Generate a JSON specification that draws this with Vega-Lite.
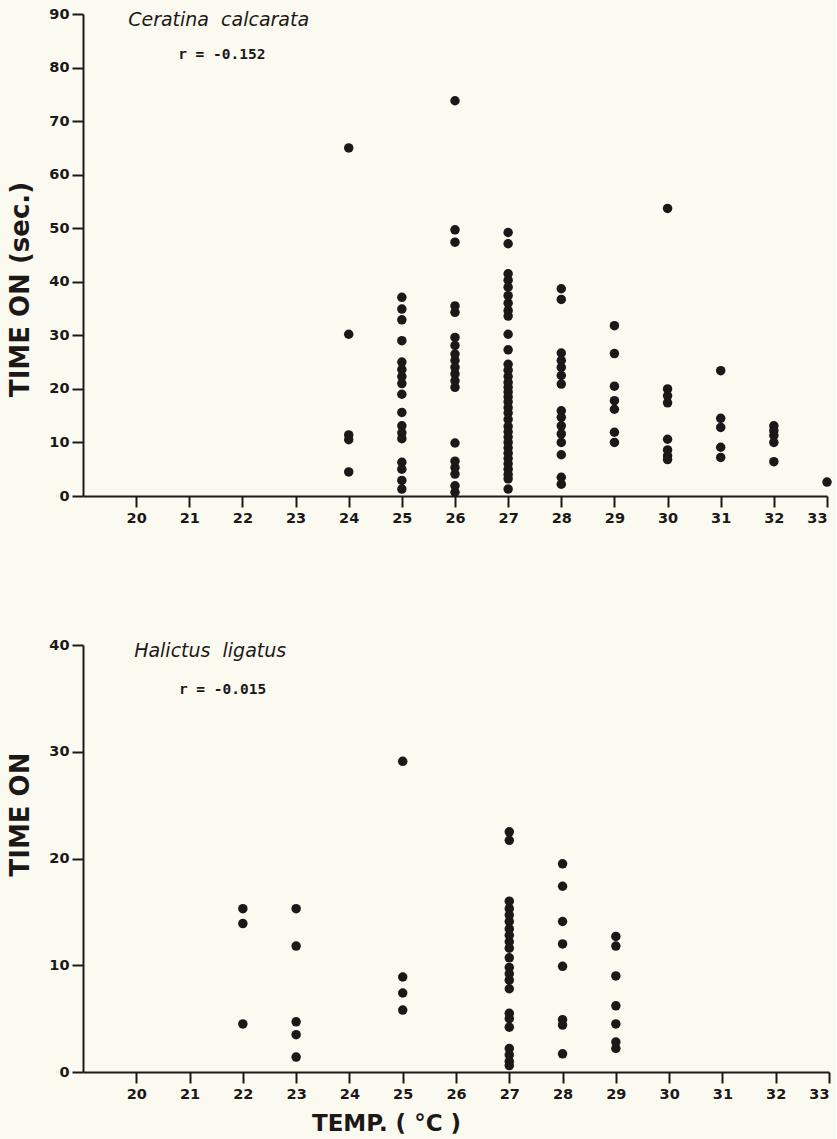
{
  "$schema": "https://vega.github.io/schema/vega-lite/v6.json",
  "background": "#fbfaf1",
  "padding": {"left": 7, "top": 6, "right": 4, "bottom": 4},
  "spacing": 112,
  "config": {
    "view": {"stroke": null},
    "axis": {
      "grid": false,
      "domainColor": "#1c1818",
      "domainWidth": 2,
      "tickColor": "#1c1818",
      "tickWidth": 2,
      "tickSize": 11,
      "labelFont": "DejaVu Sans",
      "labelFontSize": 14.5,
      "labelFontWeight": "bold",
      "labelColor": "#1c1818",
      "labelPadding": 3,
      "titleFont": "DejaVu Sans",
      "titleFontWeight": "bold",
      "titleColor": "#1c1818"
    }
  },
  "datasets": {
    "ceratina": [
      {"temp": 24, "time": 65.0}, {"temp": 24, "time": 30.2}, {"temp": 24, "time": 11.4}, {"temp": 24, "time": 10.5}, {"temp": 24, "time": 4.5},
      {"temp": 25, "time": 37.1}, {"temp": 25, "time": 34.9}, {"temp": 25, "time": 32.9}, {"temp": 25, "time": 29.0}, {"temp": 25, "time": 25.0}, {"temp": 25, "time": 23.6}, {"temp": 25, "time": 22.3}, {"temp": 25, "time": 21.0}, {"temp": 25, "time": 19.0}, {"temp": 25, "time": 15.6}, {"temp": 25, "time": 13.1}, {"temp": 25, "time": 11.8}, {"temp": 25, "time": 10.7}, {"temp": 25, "time": 6.3}, {"temp": 25, "time": 5.0}, {"temp": 25, "time": 2.9}, {"temp": 25, "time": 1.3},
      {"temp": 26, "time": 73.8}, {"temp": 26, "time": 49.7}, {"temp": 26, "time": 47.4}, {"temp": 26, "time": 35.5}, {"temp": 26, "time": 34.3}, {"temp": 26, "time": 29.6}, {"temp": 26, "time": 28.1}, {"temp": 26, "time": 26.5}, {"temp": 26, "time": 25.3}, {"temp": 26, "time": 24.0}, {"temp": 26, "time": 22.8}, {"temp": 26, "time": 21.5}, {"temp": 26, "time": 20.3}, {"temp": 26, "time": 9.9}, {"temp": 26, "time": 6.5}, {"temp": 26, "time": 5.3}, {"temp": 26, "time": 4.1}, {"temp": 26, "time": 1.9}, {"temp": 26, "time": 0.7},
      {"temp": 27, "time": 49.2}, {"temp": 27, "time": 47.1}, {"temp": 27, "time": 41.5}, {"temp": 27, "time": 40.3}, {"temp": 27, "time": 39.0}, {"temp": 27, "time": 37.4}, {"temp": 27, "time": 36.0}, {"temp": 27, "time": 34.6}, {"temp": 27, "time": 33.6}, {"temp": 27, "time": 30.2}, {"temp": 27, "time": 27.3}, {"temp": 27, "time": 24.6}, {"temp": 27, "time": 23.5}, {"temp": 27, "time": 22.3}, {"temp": 27, "time": 21.2}, {"temp": 27, "time": 20.3}, {"temp": 27, "time": 19.4}, {"temp": 27, "time": 18.5}, {"temp": 27, "time": 17.6}, {"temp": 27, "time": 16.5}, {"temp": 27, "time": 15.5}, {"temp": 27, "time": 14.3}, {"temp": 27, "time": 13.0}, {"temp": 27, "time": 12.0}, {"temp": 27, "time": 11.0}, {"temp": 27, "time": 10.0}, {"temp": 27, "time": 9.0}, {"temp": 27, "time": 8.0}, {"temp": 27, "time": 7.0}, {"temp": 27, "time": 6.0}, {"temp": 27, "time": 5.0}, {"temp": 27, "time": 4.0}, {"temp": 27, "time": 3.2}, {"temp": 27, "time": 1.3},
      {"temp": 28, "time": 38.7}, {"temp": 28, "time": 36.7}, {"temp": 28, "time": 26.7}, {"temp": 28, "time": 25.3}, {"temp": 28, "time": 24.0}, {"temp": 28, "time": 22.5}, {"temp": 28, "time": 20.9}, {"temp": 28, "time": 15.9}, {"temp": 28, "time": 14.7}, {"temp": 28, "time": 13.1}, {"temp": 28, "time": 11.6}, {"temp": 28, "time": 10.0}, {"temp": 28, "time": 7.7}, {"temp": 28, "time": 3.5}, {"temp": 28, "time": 2.2},
      {"temp": 29, "time": 31.8}, {"temp": 29, "time": 26.6}, {"temp": 29, "time": 20.5}, {"temp": 29, "time": 17.8}, {"temp": 29, "time": 16.2}, {"temp": 29, "time": 11.9}, {"temp": 29, "time": 10.0},
      {"temp": 30, "time": 53.7}, {"temp": 30, "time": 20.0}, {"temp": 30, "time": 18.7}, {"temp": 30, "time": 17.4}, {"temp": 30, "time": 10.6}, {"temp": 30, "time": 8.6}, {"temp": 30, "time": 7.5}, {"temp": 30, "time": 6.8},
      {"temp": 31, "time": 23.4}, {"temp": 31, "time": 14.5}, {"temp": 31, "time": 12.8}, {"temp": 31, "time": 9.1}, {"temp": 31, "time": 7.2},
      {"temp": 32, "time": 13.1}, {"temp": 32, "time": 12.2}, {"temp": 32, "time": 11.3}, {"temp": 32, "time": 10.0}, {"temp": 32, "time": 6.4},
      {"temp": 33, "time": 2.6}
    ],
    "halictus": [
      {"temp": 22, "time": 15.3}, {"temp": 22, "time": 13.9}, {"temp": 22, "time": 4.5},
      {"temp": 23, "time": 15.3}, {"temp": 23, "time": 11.8}, {"temp": 23, "time": 4.7}, {"temp": 23, "time": 3.5}, {"temp": 23, "time": 1.4},
      {"temp": 25, "time": 29.1}, {"temp": 25, "time": 8.9}, {"temp": 25, "time": 7.4}, {"temp": 25, "time": 5.8},
      {"temp": 27, "time": 22.5}, {"temp": 27, "time": 21.7}, {"temp": 27, "time": 16.0}, {"temp": 27, "time": 15.3}, {"temp": 27, "time": 14.7}, {"temp": 27, "time": 14.1}, {"temp": 27, "time": 13.4}, {"temp": 27, "time": 12.8}, {"temp": 27, "time": 12.2}, {"temp": 27, "time": 11.6}, {"temp": 27, "time": 10.7}, {"temp": 27, "time": 9.8}, {"temp": 27, "time": 9.2}, {"temp": 27, "time": 8.6}, {"temp": 27, "time": 7.8}, {"temp": 27, "time": 5.5}, {"temp": 27, "time": 5.0}, {"temp": 27, "time": 4.2}, {"temp": 27, "time": 2.2}, {"temp": 27, "time": 1.6}, {"temp": 27, "time": 1.0}, {"temp": 27, "time": 0.6},
      {"temp": 28, "time": 19.5}, {"temp": 28, "time": 17.4}, {"temp": 28, "time": 14.1}, {"temp": 28, "time": 12.0}, {"temp": 28, "time": 9.9}, {"temp": 28, "time": 4.9}, {"temp": 28, "time": 4.4}, {"temp": 28, "time": 1.7},
      {"temp": 29, "time": 12.7}, {"temp": 29, "time": 11.8}, {"temp": 29, "time": 9.0}, {"temp": 29, "time": 6.2}, {"temp": 29, "time": 4.5}, {"temp": 29, "time": 2.8}, {"temp": 29, "time": 2.2}
    ]
  },
  "vconcat": [
    {
      "width": 744,
      "height": 482,
      "layer": [
        {
          "data": {"name": "ceratina"},
          "mark": {"type": "circle", "size": 90, "opacity": 1, "color": "#1c1818"},
          "encoding": {
            "x": {"field": "temp", "type": "quantitative",
                  "scale": {"domain": [19, 33], "nice": false, "zero": false},
                  "axis": {"values": [20, 21, 22, 23, 24, 25, 26, 27, 28, 29, 30, 31, 32, 33], "title": null, "labelPadding": 4}},
            "y": {"field": "time", "type": "quantitative",
                  "scale": {"domain": [0, 90], "nice": false, "zero": true},
                  "axis": {"values": [0, 10, 20, 30, 40, 50, 60, 70, 80, 90], "title": "TIME ON  (sec.)",
                           "titleFontSize": 26, "titleAngle": 270, "titleAlign": "center", "titleBaseline": "middle",
                           "titleX": -63, "titleY": 275}}
          }
        },
        {
          "data": {"values": [{"label": "Ceratina\u00a0 calcarata"}]},
          "mark": {"type": "text", "align": "left", "baseline": "alphabetic", "font": "DejaVu Sans", "fontStyle": "italic", "fontSize": 19, "color": "#1c1818"},
          "encoding": {
            "x": {"datum": 19.85, "type": "quantitative"},
            "y": {"datum": 87.8, "type": "quantitative"},
            "text": {"field": "label"}
          }
        },
        {
          "data": {"values": [{"label": "r = -0.152"}]},
          "mark": {"type": "text", "align": "left", "baseline": "alphabetic", "font": "DejaVu Sans Mono", "fontWeight": "bold", "fontSize": 14.5, "color": "#1c1818"},
          "encoding": {
            "x": {"datum": 20.79, "type": "quantitative"},
            "y": {"datum": 81.6, "type": "quantitative"},
            "text": {"field": "label"}
          }
        }
      ]
    },
    {
      "width": 746,
      "height": 427,
      "layer": [
        {
          "data": {"name": "halictus"},
          "mark": {"type": "circle", "size": 90, "opacity": 1, "color": "#1c1818"},
          "encoding": {
            "x": {"field": "temp", "type": "quantitative",
                  "scale": {"domain": [19, 33], "nice": false, "zero": false},
                  "axis": {"values": [20, 21, 22, 23, 24, 25, 26, 27, 28, 29, 30, 31, 32, 33], "title": "TEMP. ( °C )", "labelPadding": 4,
                           "titleFontSize": 23, "titleAlign": "center", "titleBaseline": "alphabetic", "titleX": 303, "titleY": 58}},
            "y": {"field": "time", "type": "quantitative",
                  "scale": {"domain": [0, 40], "nice": false, "zero": true},
                  "axis": {"values": [0, 10, 20, 30, 40], "title": "TIME ON",
                           "titleFontSize": 26, "titleAngle": 270, "titleAlign": "center", "titleBaseline": "middle",
                           "titleX": -63, "titleY": 169}}
          }
        },
        {
          "data": {"values": [{"label": "Halictus\u00a0 ligatus"}]},
          "mark": {"type": "text", "align": "left", "baseline": "alphabetic", "font": "DejaVu Sans", "fontStyle": "italic", "fontSize": 19, "color": "#1c1818"},
          "encoding": {
            "x": {"datum": 19.96, "type": "quantitative"},
            "y": {"datum": 38.88, "type": "quantitative"},
            "text": {"field": "label"}
          }
        },
        {
          "data": {"values": [{"label": "r = -0.015"}]},
          "mark": {"type": "text", "align": "left", "baseline": "alphabetic", "font": "DejaVu Sans Mono", "fontWeight": "bold", "fontSize": 14.5, "color": "#1c1818"},
          "encoding": {
            "x": {"datum": 20.8, "type": "quantitative"},
            "y": {"datum": 35.4, "type": "quantitative"},
            "text": {"field": "label"}
          }
        }
      ]
    }
  ]
}
